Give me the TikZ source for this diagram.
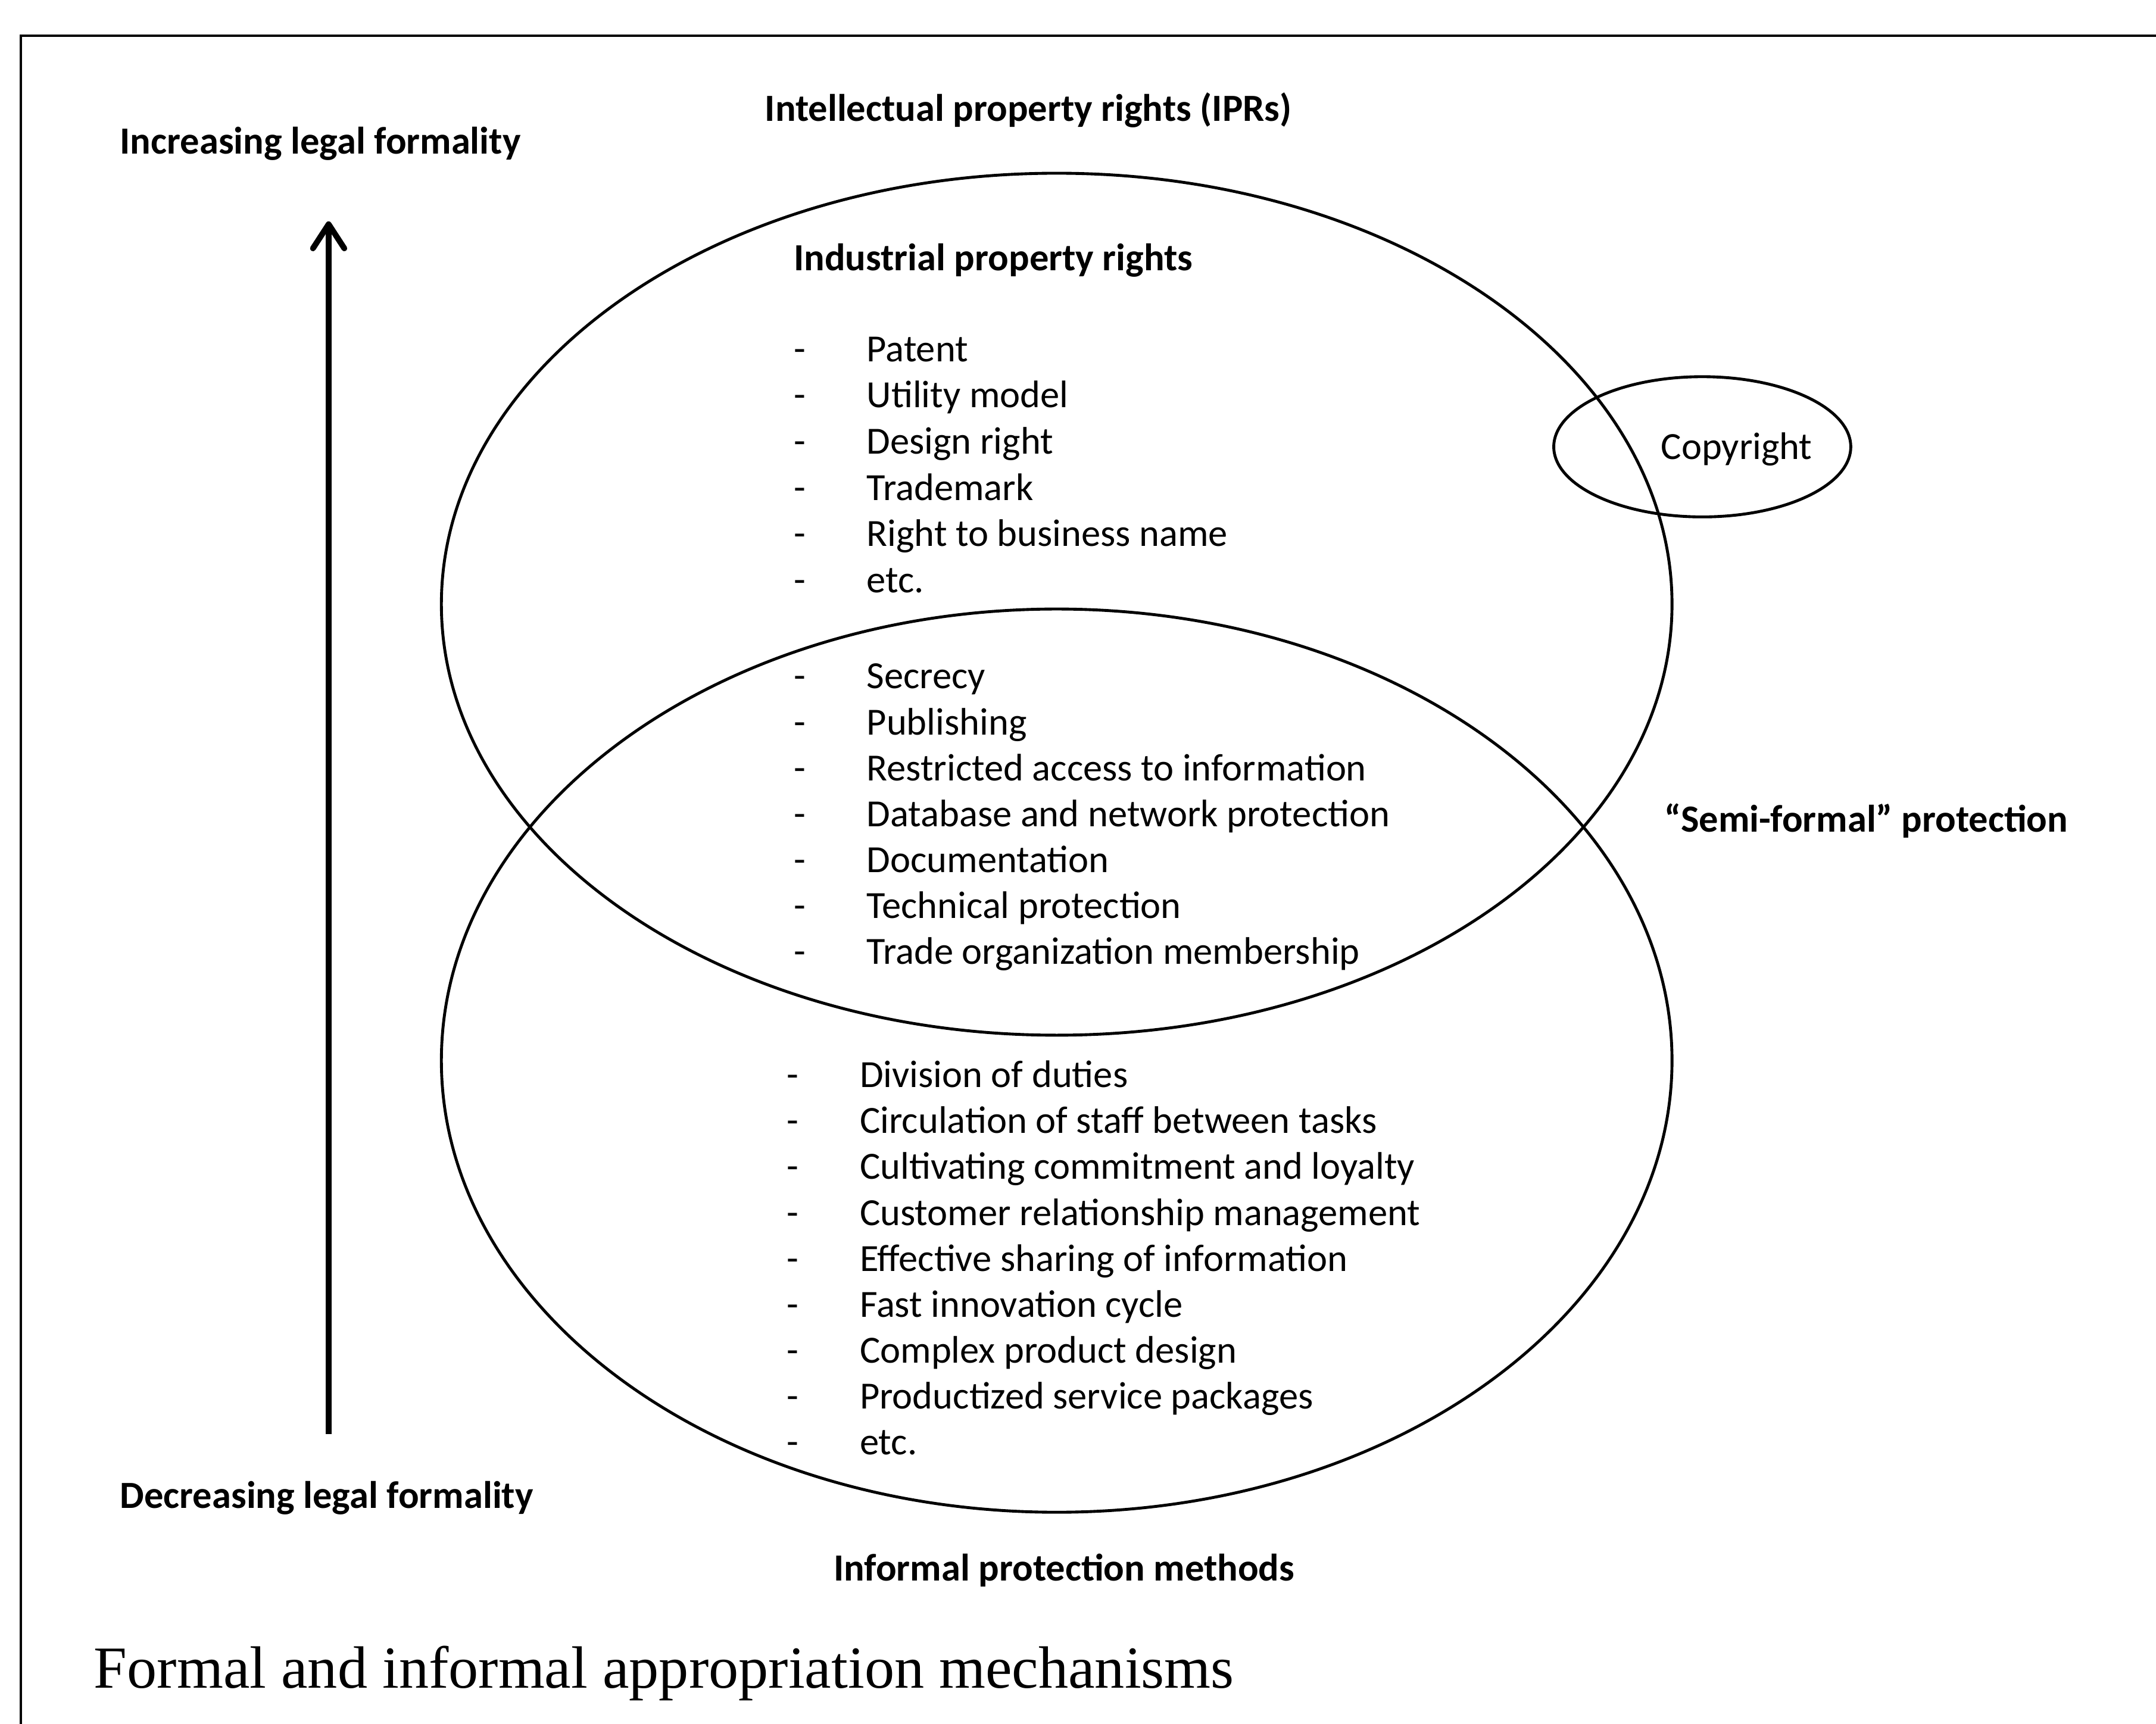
\documentclass[tikz,border=0pt]{standalone}
\usepackage{fontspec}
\usepackage{tikz}
\usetikzlibrary{arrows.meta}
\setmainfont{Carlito}
\newfontfamily\captionfont{Liberation Serif}

\begin{document}
\begin{tikzpicture}[x=0.02cm, y=-0.02cm,
    item/.style={anchor=base west, inner sep=0pt, font=\fontsize{15.9}{19}\selectfont},
    head/.style={item, font=\fontsize{15.9}{19}\selectfont\bfseries},
    ring/.style={line width=1.2pt},
    formality/.style={line width=2.4pt, -{Straight Barb[round, length=10pt, width=13pt]}}]
    \useasboundingbox (0,0) rectangle (1568,1254);

    % Frame
    \draw[line width=1pt] (1568,26) -- (15,26) -- (15,1254);

    % Ellipses
    \draw[ring] (768.5,439.5) ellipse (447.5 and 313.5);
    \draw[ring] (768.5,771.5) ellipse (447.5 and 328.5);
    \draw[ring] (1238,325) ellipse (108 and 51);

    % Formality arrow
    \coordinate (low) at (239,1043);
    \coordinate (high) at (239,161);
    \draw[formality] (low) -- (high);

    % Headings
    \node[head] (inc) at (87,112) {Increasing legal formality};
    \node[head] (dec) at (87,1097) {Decreasing legal formality};
    \node[head] (ipr) at (556,88) {Intellectual property rights (IPRs)};
    \node[head] (ind) at (577,197) {Industrial property rights};
    \node[head] (semi) at (1210,605) {“Semi-formal” protection};
    \node[head] (inf) at (606,1150) {Informal protection methods};
    \node[item, anchor=base] (copy) at (1263,334) {Copyright};

    % Industrial property rights
    \foreach \t [count=\i] in {Patent, Utility model, Design right, Trademark,
                               Right to business name, etc.} {
        \node[item] (dashA\i) at (577, 263+33.6*\i-33.6) {-};
        \node[item] (rightA\i) at (630, 263+33.6*\i-33.6) {\t};
    }

    % Semi-formal protection
    \foreach \t [count=\i] in {Secrecy, Publishing, Restricted access to information,
                               Database and network protection, Documentation,
                               Technical protection, Trade organization membership} {
        \node[item] (dashB\i) at (577, 501+33.4*\i-33.4) {-};
        \node[item] (semiB\i) at (630, 501+33.4*\i-33.4) {\t};
    }

    % Informal protection methods
    \foreach \t [count=\i] in {Division of duties, Circulation of staff between tasks,
                               Cultivating commitment and loyalty,
                               Customer relationship management,
                               Effective sharing of information, Fast innovation cycle,
                               Complex product design, Productized service packages, etc.} {
        \node[item] (dashC\i) at (572, 791+33.4*\i-33.4) {-};
        \node[item] (infC\i) at (625, 791+33.4*\i-33.4) {\t};
    }

    % Caption
    \node[anchor=base west, inner sep=0pt, font=\captionfont\fontsize{24.7}{30}\selectfont]
        (cap) at (68,1228) {Formal and informal appropriation mechanisms};
\end{tikzpicture}
\end{document}
